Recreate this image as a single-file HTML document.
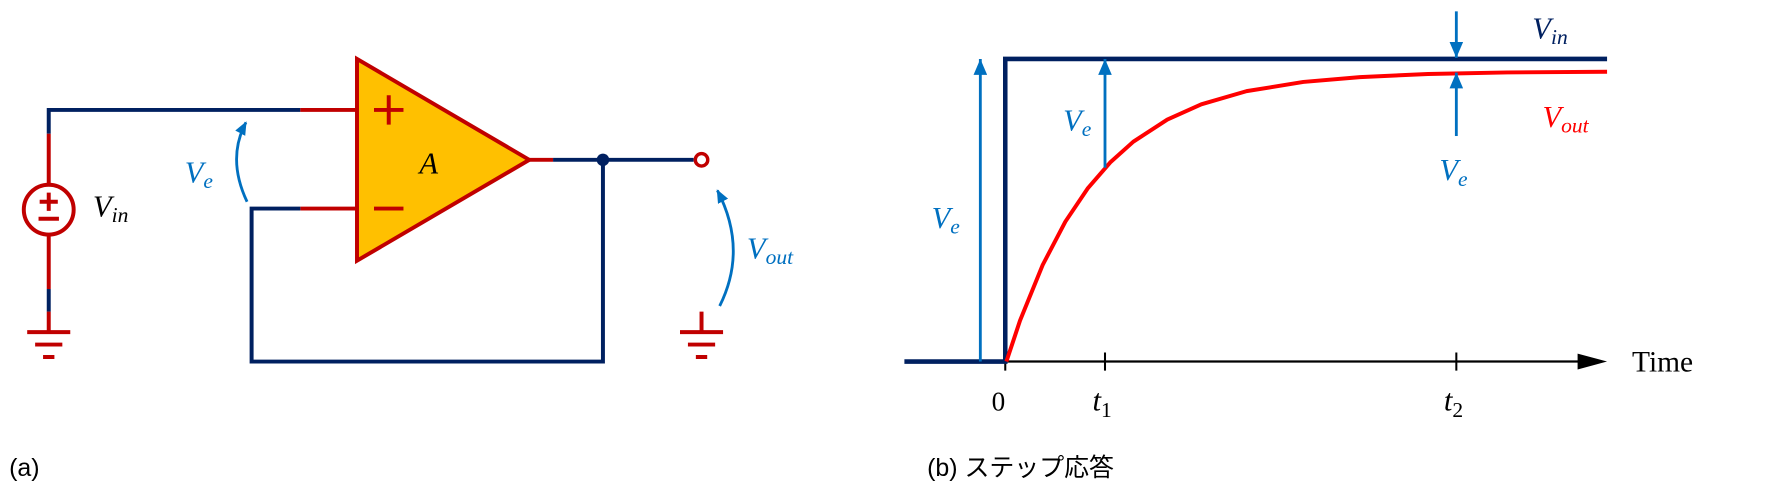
<!DOCTYPE html>
<html><head><meta charset="utf-8"><style>
html,body{margin:0;padding:0;background:#fff;}
svg{display:block;}
.m{font-family:"Liberation Serif",serif;font-style:italic;}
</style></head><body>
<svg width="1768" height="491" viewBox="0 0 1560 433.2" xmlns="http://www.w3.org/2000/svg">
<defs>
<marker id="ab" viewBox="0 0 10 10" markerWidth="12" markerHeight="10" refX="9" refY="5" orient="auto" markerUnits="userSpaceOnUse" preserveAspectRatio="none"><path d="M0,0 L10,5 L0,10 Z" fill="#0070C0"/></marker>
<marker id="ab2" viewBox="0 0 10 10" markerWidth="14" markerHeight="12" refX="10" refY="5" orient="auto" markerUnits="userSpaceOnUse" preserveAspectRatio="none"><path d="M0,0 L10,5 L0,10 Z" fill="#0070C0"/></marker>
</defs>
<g fill="none" stroke-width="3.5">
<path d="M43,118 V97 H265" stroke="#002060"/>
<path d="M265,97 H315" stroke="#C00000"/>
<path d="M265,184 H315" stroke="#C00000"/>
<path d="M265,184 H222 V319 H532 V141" stroke="#002060"/>
<path d="M467,141 H488" stroke="#C00000"/>
<path d="M488,141 H612" stroke="#002060"/>
<path d="M43,118 V163 M43,207 V255" stroke="#C00000"/>
<path d="M43,255 V275" stroke="#002060"/>
<path d="M43,275 V292 M24,293 H62 M31,304 H55 M38,315 H48" stroke="#C00000"/>
<path d="M619,275 V292 M600,293 H638 M607,304 H631 M614,315 H624" stroke="#C00000"/>
<circle cx="43" cy="185" r="22" stroke="#C00000"/>
<path d="M43,170 V186 M35,178 H51 M34,193 H52" stroke="#C00000" stroke-width="3.5"/>
<circle cx="619" cy="141" r="5.5" stroke="#C00000" stroke-width="3"/>
</g>
<polygon points="315,52 315,230 467,141" fill="#FFC000" stroke="#C00000" stroke-width="3.5"/>
<path d="M330,97 H356 M343,84 V110 M330,184 H356" stroke="#C00000" stroke-width="3.5"/>
<circle cx="532" cy="141" r="5.5" fill="#002060"/>
<text x="370" y="153" class="m" font-size="27" fill="#000">A</text>
<path d="M218,178 Q200,140 217,108" fill="none" stroke="#0070C0" stroke-width="2.5" marker-end="url(#ab)"/>
<text x="163" y="161" class="m" font-size="27" fill="#0070C0">V<tspan font-size="19" dy="5">e</tspan></text>
<path d="M635,270 Q660,220 633,168" fill="none" stroke="#0070C0" stroke-width="2.5" marker-end="url(#ab)"/>
<text x="659" y="228" class="m" font-size="27" fill="#0070C0">V<tspan font-size="19" dy="5">out</tspan></text>
<text x="82" y="191" class="m" font-size="27" fill="#000">V<tspan font-size="19" dy="5">in</tspan></text>
<text x="8" y="420" font-family="Liberation Sans,sans-serif" font-size="22" fill="#000">(a)</text>
<path d="M887,319 H1400" stroke="#000" stroke-width="2"/>
<path d="M1392,312 L1418,319 L1392,326 Z" fill="#000"/>
<path d="M887,319 V327 M975,311 V327 M1285,311 V327" stroke="#000" stroke-width="1.8"/>
<path d="M798,319 H887 V52 H1418" fill="none" stroke="#002060" stroke-width="4"/>
<polyline points="888,319 900,282.9 920,233.8 940,195.6 960,165.9 980,142.9 1000,125 1030,105.5 1060,92 1100,80.4 1150,72.3 1200,68 1260,65.3 1330,63.9 1418,63.3" fill="none" stroke="#FF0000" stroke-width="3.5" stroke-linejoin="round"/>
<g stroke="#0070C0" stroke-width="2.5">
<path d="M865,319 V52" marker-end="url(#ab2)"/>
<path d="M975,148 V52" marker-end="url(#ab2)"/>
<path d="M1285,10 V51" marker-end="url(#ab2)"/>
<path d="M1285,120 V64" marker-end="url(#ab2)"/>
</g>
<text x="822" y="201" class="m" font-size="27" fill="#0070C0">V<tspan font-size="19" dy="5">e</tspan></text>
<text x="938" y="115" class="m" font-size="27" fill="#0070C0">V<tspan font-size="19" dy="5">e</tspan></text>
<text x="1270" y="159" class="m" font-size="27" fill="#0070C0">V<tspan font-size="19" dy="5">e</tspan></text>
<text x="1352" y="34" class="m" font-size="27" fill="#002060">V<tspan font-size="19" dy="5">in</tspan></text>
<text x="1361" y="112" class="m" font-size="27" fill="#FF0000">V<tspan font-size="19" dy="5">out</tspan></text>
<text x="875" y="362" font-family="Liberation Serif,serif" font-size="24" fill="#000">0</text>
<text x="964" y="362" class="m" font-size="27" fill="#000">t<tspan font-size="19" dy="6" font-style="normal">1</tspan></text>
<text x="1274" y="362" class="m" font-size="27" fill="#000">t<tspan font-size="19" dy="6" font-style="normal">2</tspan></text>
<text x="1440" y="328" font-family="Liberation Serif,serif" font-size="26" fill="#000">Time</text>
<text x="818" y="420" font-family="Liberation Sans,'Noto Sans CJK JP',sans-serif" font-size="22" fill="#000">(b)  ステップ応答</text>
</svg>
</body></html>
